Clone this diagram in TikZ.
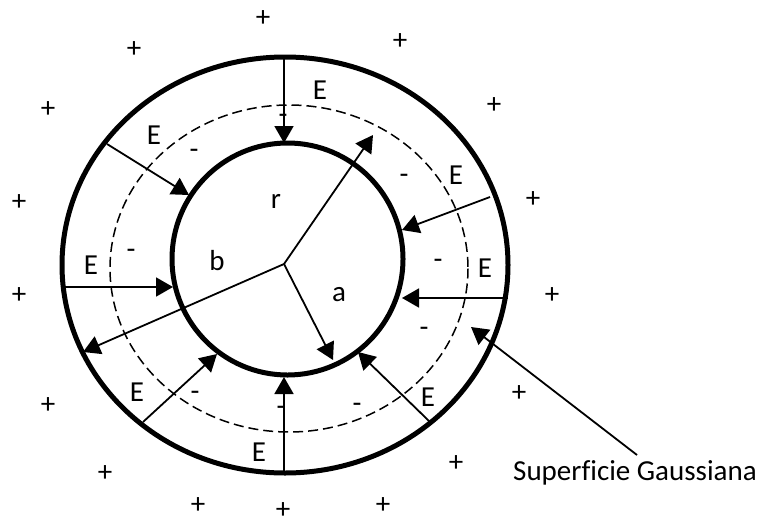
\documentclass[tikz,border=0pt]{standalone}
\usepackage{fontspec}
\setmainfont[Ligatures=NoCommon]{Carlito}
\usetikzlibrary{arrows.meta}
\begin{document}
\begin{tikzpicture}[x=1pt,y=-1pt,
  txt/.style={font=\fontsize{29}{31}\selectfont, inner sep=0pt, anchor=base},
  shell/.style={line width=5pt},
  gauss/.style={line width=1.5pt, dash pattern=on 10pt off 5pt},
  fld/.style={line width=1.8pt, -{Triangle[length=17pt,width=19pt]}},
]
\useasboundingbox (0,0) rectangle (762,525);
% conductors and gaussian surface
\draw[shell] (285,265) ellipse [x radius=223, y radius=208];
\draw[shell] (287.5,259) ellipse [x radius=115.5, y radius=116];
\draw[gauss] (289,268.5) ellipse [x radius=179, y radius=163.5];
% centre and radii
\coordinate (O) at (284,264);
\coordinate (rT) at (373,135);
\coordinate (aT) at (333,360);
\coordinate (bT) at (83,352);
\draw[fld] (O) -- (rT);
\draw[fld] (O) -- (aT);
\draw[fld] (O) -- (bT);
\node[txt] (r) at (276,208.5) {r};
\node[txt] (b) at (217,270) {b};
\node[txt] (a) at (339,301.5) {a};
% field arrows
\coordinate (s1) at (284,57);   \coordinate (e1) at (284,143);
\coordinate (s2) at (107,144);  \coordinate (e2) at (189,195);
\coordinate (s3) at (65,287);   \coordinate (e3) at (173,287);
\coordinate (s4) at (143,422);  \coordinate (e4) at (217,354);
\coordinate (s5) at (284,473);  \coordinate (e5) at (284,377);
\coordinate (s6) at (429,421);  \coordinate (e6) at (358,352);
\coordinate (s7) at (508,298);  \coordinate (e7) at (402,298);
\coordinate (s8) at (490,197);  \coordinate (e8) at (402,230);
\foreach \i in {1,...,8} {\draw[fld] (s\i) -- (e\i);}
% E labels
\node[txt] (E1) at (320,99) {E};
\node[txt] (E2) at (154,144) {E};
\node[txt] (E3) at (91,274) {E};
\node[txt] (E4) at (137,401) {E};
\node[txt] (E5) at (259,461) {E};
\node[txt] (E6) at (428,406) {E};
\node[txt] (E7) at (485,277) {E};
\node[txt] (E8) at (456,184) {E};
% minus charges
\node[txt] (m1) at (283,123) {-};
\node[txt] (m2) at (194,158) {-};
\node[txt] (m3) at (131,258) {-};
\node[txt] (m4) at (195,400) {-};
\node[txt] (m5) at (281,415) {-};
\node[txt] (m6) at (357,412) {-};
\node[txt] (m7) at (438,268) {-};
\node[txt] (m8) at (424,336) {-};
\node[txt] (m9) at (404,183) {-};
% plus charges
\node[txt] (p1) at (263,26) {+};
\node[txt] (p2) at (134,57) {+};
\node[txt] (p3) at (400,49) {+};
\node[txt] (p4) at (48,117) {+};
\node[txt] (p5) at (494,113) {+};
\node[txt] (p6) at (19,210) {+};
\node[txt] (p7) at (533,207) {+};
\node[txt] (p8) at (19,303) {+};
\node[txt] (p9) at (552,303) {+};
\node[txt] (p10) at (48,413) {+};
\node[txt] (p11) at (519,401) {+};
\node[txt] (p12) at (105,481) {+};
\node[txt] (p13) at (456,471) {+};
\node[txt] (p14) at (198,513) {+};
\node[txt] (p15) at (383,513) {+};
\node[txt] (p16) at (283,518) {+};
% gaussian surface label
\node[txt, anchor=base west] (G) at (513,480) {Superf\kern0pt icie Gaussiana};
\coordinate (Gs) at (637,455);
\coordinate (Gt) at (471,327);
\draw[fld] (Gs) -- (Gt);
\end{tikzpicture}
\end{document}
